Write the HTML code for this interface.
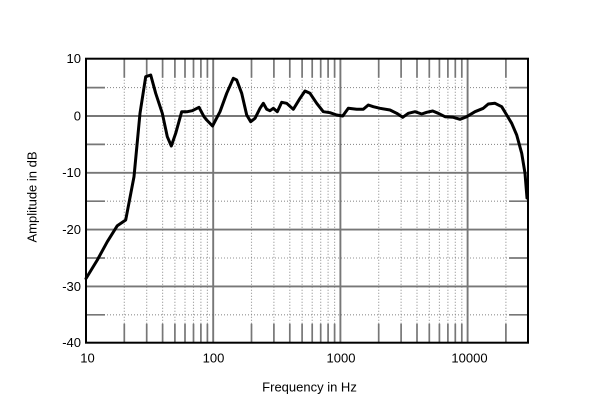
<!DOCTYPE html>
<html>
<head>
<meta charset="utf-8">
<style>
html,body{margin:0;padding:0;background:#fff;}
svg{display:block;}
text{font-family:"Liberation Sans",Arial,sans-serif;font-size:13px;fill:#000;}
</style>
</head>
<body>
<svg width="600" height="406" viewBox="0 0 600 406" xmlns="http://www.w3.org/2000/svg">
<rect width="600" height="406" fill="#fff"/>
<!-- minor dotted vertical lines -->
<g stroke="#909090" stroke-width="1.1" stroke-dasharray="1,2" fill="none">
<path d="M124.3 58.7V342.7M146.7 58.7V342.7M162.6 58.7V342.7M174.9 58.7V342.7M185 58.7V342.7M193.5 58.7V342.7M200.9 58.7V342.7M207.4 58.7V342.7
M251.5 58.7V342.7M273.9 58.7V342.7M289.8 58.7V342.7M302.1 58.7V342.7M312.2 58.7V342.7M320.7 58.7V342.7M328.1 58.7V342.7M334.6 58.7V342.7
M378.7 58.7V342.7M401.1 58.7V342.7M417 58.7V342.7M429.3 58.7V342.7M439.4 58.7V342.7M447.9 58.7V342.7M455.3 58.7V342.7M461.8 58.7V342.7
M505.9 58.7V342.7"/>
<path d="M86 87.6H528M86 144.4H528M86 201.2H528M86 258H528M86 314.8H528"/>
</g>
<!-- minor solid ticks -->
<g stroke="#777" stroke-width="1.7" fill="none">
<path d="M124.3 58.7v19M146.7 58.7v19M162.6 58.7v19M174.9 58.7v19M185 58.7v19M193.5 58.7v19M200.9 58.7v19M207.4 58.7v19
M251.5 58.7v19M273.9 58.7v19M289.8 58.7v19M302.1 58.7v19M312.2 58.7v19M320.7 58.7v19M328.1 58.7v19M334.6 58.7v19
M378.7 58.7v19M401.1 58.7v19M417 58.7v19M429.3 58.7v19M439.4 58.7v19M447.9 58.7v19M455.3 58.7v19M461.8 58.7v19M505.9 58.7v19"/>
<path d="M124.3 342.7v-19M146.7 342.7v-19M162.6 342.7v-19M174.9 342.7v-19M185 342.7v-19M193.5 342.7v-19M200.9 342.7v-19M207.4 342.7v-19
M251.5 342.7v-19M273.9 342.7v-19M289.8 342.7v-19M302.1 342.7v-19M312.2 342.7v-19M320.7 342.7v-19M328.1 342.7v-19M334.6 342.7v-19
M378.7 342.7v-19M401.1 342.7v-19M417 342.7v-19M429.3 342.7v-19M439.4 342.7v-19M447.9 342.7v-19M455.3 342.7v-19M461.8 342.7v-19M505.9 342.7v-19"/>
<path d="M86 87.6h19M86 144.4h19M86 201.2h19M86 258h19M86 314.8h19"/>
<path d="M528 87.6h-19M528 144.4h-19M528 201.2h-19M528 258h-19M528 314.8h-19"/>
</g>
<!-- major grid -->
<g stroke="#777" stroke-width="1.9" fill="none">
<path d="M213.2 58.7V342.7M340.4 58.7V342.7M467.6 58.7V342.7"/>
<path d="M86 116H528M86 172.8H528M86 229.6H528M86 286.4H528"/>
</g>
<!-- frame -->
<rect x="86" y="58.7" width="442" height="284" fill="none" stroke="#000" stroke-width="2"/>
<!-- curve -->
<polyline fill="none" stroke="#000" stroke-width="3" stroke-linejoin="round" stroke-linecap="round"
points="86,278.5 97.3,260 107.3,241.7 117.3,225.7 125.7,220 134,176.7 140,113.3 145.7,76.7 150.7,75 155.7,93.3 162.3,113.3 167.3,136.7 171.3,146 175.7,133.3 181.7,111.7 187.3,111.7 192.3,110.7 199,107.3 204,116.7 206.7,120 212.5,126 220,111.7 226.7,93.3 233.3,78.3 236.7,80 241.7,93.3 246.7,115 250.7,121.7 255,118.3 260,108.3 263.3,103.3 266.7,109.3 270,110.7 273.3,108.3 277.3,111.7 281.7,102.3 286.7,103.3 293.3,109.3 300,98.3 305,91 310,93.3 316.7,103.3 323.3,111.7 330,112.7 336.7,115 342.7,116 348.3,108.3 356.7,109.3 363.3,109.3 368.3,105 373.3,106.7 380,108.3 390,110 396.7,113.3 402.7,117.3 408.3,113.3 415,111.7 421.7,114 426.7,112.3 432.7,111 438.3,113.3 445,116.7 453.3,117.3 460,119.3 466.7,116.7 475,111.7 483.3,108.3 488.3,104 495,103.3 501.7,106.7 506.7,115 511.7,123.3 516.7,135 521.7,153.3 525,173.3 527,198"/>
<!-- y labels -->
<g text-anchor="end">
<text x="81" y="63.2">10</text>
<text x="81" y="120.3">0</text>
<text x="81" y="177.2">-10</text>
<text x="81" y="234">-20</text>
<text x="81" y="290.8">-30</text>
<text x="81" y="347.2">-40</text>
</g>
<!-- x labels -->
<g text-anchor="middle">
<text x="87.5" y="362.5">10</text>
<text x="213.5" y="362.5">100</text>
<text x="341" y="362.5">1000</text>
<text x="469.5" y="362.5">10000</text>
<text x="309.5" y="391.5">Frequency in Hz</text>
</g>
<text transform="translate(36.7,197) rotate(-90)" text-anchor="middle">Amplitude in dB</text>
</svg>
</body>
</html>
